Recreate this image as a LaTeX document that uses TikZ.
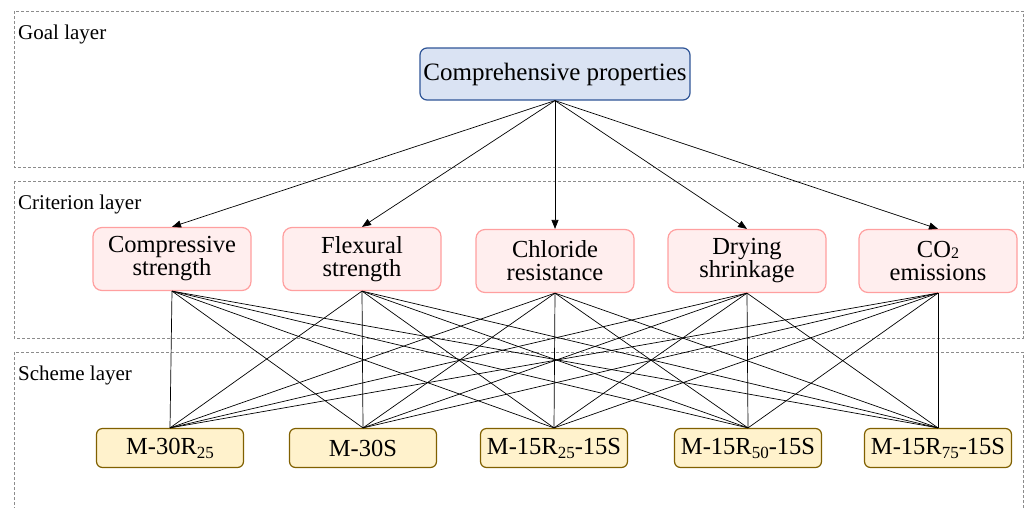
\documentclass[tikz,border=0pt]{standalone}
\usepackage{fontspec}
\setmainfont{Liberation Serif}
\usetikzlibrary{arrows.meta}
\definecolor{goalfill}{HTML}{DAE3F3}
\definecolor{goaldraw}{HTML}{2F5597}
\definecolor{critfill}{HTML}{FFEEEE}
\definecolor{critdraw}{HTML}{FF9F9F}
\definecolor{schfill}{HTML}{FFF2CC}
\definecolor{schdraw}{HTML}{806000}
\definecolor{layerdraw}{HTML}{8C8C8C}
\newcommand{\lowsub}[1]{\raisebox{-4pt}{\fontsize{17}{17}\selectfont #1}}
\begin{document}
\begin{tikzpicture}[x=1pt,y=-1pt,
  layerbox/.style={draw=layerdraw,line width=0.7pt,dash pattern=on 3pt off 2pt},
  layerlabel/.style={anchor=base west,inner sep=0pt,font=\fontsize{21}{21}\selectfont},
  goalbox/.style={draw=goaldraw,fill=goalfill,line width=1.2pt,rounded corners=7pt,
    minimum width=270pt,minimum height=52pt,inner sep=0pt,font=\fontsize{25}{25}\selectfont},
  critbox/.style={draw=critdraw,fill=critfill,line width=1.2pt,rounded corners=9pt,
    minimum width=158pt,minimum height=63pt,inner sep=0pt,align=center,
    font=\fontsize{24.5}{23}\selectfont},
  schbox/.style={draw=schdraw,fill=schfill,line width=1.2pt,rounded corners=6pt,
    minimum width=147pt,minimum height=39pt,inner sep=0pt,font=\fontsize{24.5}{24.5}\selectfont},
  arr/.style={-{Triangle[length=9pt,width=7pt]},line width=0.7pt},
  lnk/.style={line width=0.7pt}
]
\useasboundingbox (0,0) rectangle (1031,507);
% layer boxes
\draw[layerbox] (14,11) rectangle (1023,167);
\draw[layerbox] (14,181) rectangle (1023,338);
\draw[layerbox] (14,515) -- (14,352) -- (1023,352) -- (1023,515);
\node[layerlabel] (lg) at (18,39) {Goal layer};
\node[layerlabel] (lc) at (18,209) {Criterion layer};
\node[layerlabel] (ls) at (18,380) {Scheme layer};
% goal
\node[goalbox] (g) at (555,74) {Comprehensive properties};
% criteria
\node[critbox] (c1) at (172,259) {Compressive\\strength};
\node[critbox] (c2) at (362,259) {Flexural\\strength};
\node[critbox] (c3) at (555,261) {Chloride\\resistance};
\node[critbox] (c4) at (747,261) {Drying\\shrinkage};
\node[critbox] (c5) at (938,261) {CO\raisebox{-1pt}{\fontsize{16}{16}\selectfont 2}\\emissions};
% schemes
\node[schbox] (s1) at (170,448) {M-30R\lowsub{25}};
\node[schbox] (s2) at (363,448) {M-30S};
\node[schbox] (s3) at (554,448) {M-15R\lowsub{25}-15S};
\node[schbox] (s4) at (748,448) {M-15R\lowsub{50}-15S};
\node[schbox] (s5) at (938,448) {M-15R\lowsub{75}-15S};
% arrows goal -> criteria
\foreach \c in {c1,c2,c3,c4,c5}
  \draw[arr] (g.south) -- (\c.north);
% links criteria -> schemes
\foreach \c in {c1,c2,c3,c4,c5}
  \foreach \s in {s1,s2,s3,s4,s5}
    \draw[lnk] (\c.south) -- (\s.north);
\end{tikzpicture}
\end{document}
